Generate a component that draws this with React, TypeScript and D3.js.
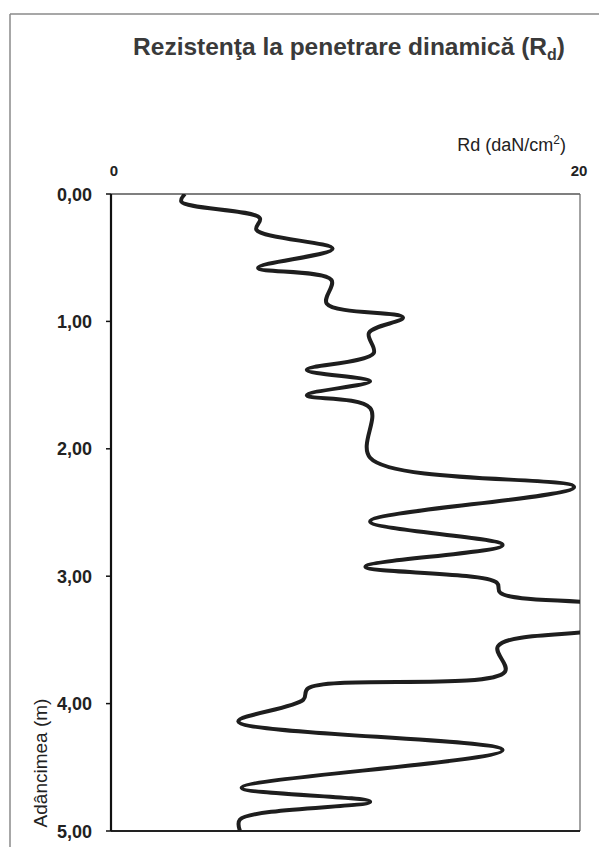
import React from "react";
import * as d3 from "d3";

const depths = [0.0, 0.06, 0.19, 0.28, 0.43, 0.58, 0.675, 0.86, 0.97, 1.09, 1.25, 1.38, 1.47, 1.58, 1.68, 2.07, 2.3, 2.57, 2.755, 2.925, 3.05, 3.13, 3.22, 3.32, 3.42, 3.55, 3.75, 3.88, 3.97, 4.14, 4.365, 4.66, 4.77, 4.91, 5.0];
const rdValues = [3.15, 3.0, 6.35, 6.2, 9.45, 6.27, 9.4, 9.2, 12.45, 11.0, 11.2, 8.35, 11.05, 8.35, 11.05, 11.05, 19.75, 11.05, 16.7, 10.85, 16.45, 16.6, 21, 23, 21, 16.5, 16.8, 8.4, 8.2, 5.43, 16.7, 5.57, 11.05, 5.5, 5.5];
const depthTicks = [0, 1, 2, 3, 4, 5];
const rdTicks = [0, 20];

const W = 599;
const H = 847;
const L = 111, R = 580, T = 194, B = 831;

export default function App() {
  const x = d3.scaleLinear().domain([0, 20]).range([L, R]);
  const y = d3.scaleLinear().domain([0, 5]).range([T, B]);
  const pts = depths.map((d, i) => [rdValues[i], d] as [number, number]);
  const line = d3
    .line<[number, number]>()
    .x((p) => x(p[0]))
    .y((p) => y(p[1]))
    .curve(d3.curveCatmullRom.alpha(0.5));
  const fmt = (v: number) => v.toFixed(2).replace(".", ",");
  const font = "'Liberation Sans', Arial, sans-serif";
  return (
    <svg width={W} height={H} style={{ position: "absolute", left: 0, top: 0, background: "#fff" }} fontFamily={font}>
      <defs>
        <clipPath id="plotClip">
          <rect x={L} y={T} width={R - L} height={B - T} />
        </clipPath>
      </defs>
      {/* outer frame */}
      <line x1={10} y1={14} x2={W} y2={14} stroke="#8a8a8a" strokeWidth={1.5} />
      <line x1={10} y1={14} x2={10} y2={H} stroke="#8a8a8a" strokeWidth={1.5} />
      {/* title */}
      <text x={349} y={55} textAnchor="middle" fontSize={24.5} fontWeight="bold" fill="#3a3a3a">
        Rezistenţa la penetrare dinamică (R<tspan fontSize={16} dy={5}>d</tspan><tspan dy={-5}>)</tspan>
      </text>
      {/* x-axis title */}
      <text x={566} y={151} textAnchor="end" fontSize={18} fill="#222">
        Rd (daN/cm<tspan fontSize={12} dy={-7}>2</tspan><tspan dy={7}>)</tspan>
      </text>
      {rdTicks.map((t) => (
        <text key={t} x={x(t) + (t === 0 ? 3 : -1)} y={176} textAnchor="middle" fontSize={15} fontWeight="bold" fill="#222">
          {t}
        </text>
      ))}
      {/* plot frame */}
      <line x1={L} y1={T} x2={R} y2={T} stroke="#555" strokeWidth={1.6} />
      <line x1={R} y1={T} x2={R} y2={B} stroke="#666" strokeWidth={1.2} />
      <line x1={L} y1={B} x2={R} y2={B} stroke="#222" strokeWidth={2} />
      <line x1={L} y1={T} x2={L} y2={B} stroke="#111" strokeWidth={2.2} />
      {depthTicks.map((t) => (
        <g key={t}>
          <line x1={L - 5} x2={L} y1={y(t)} y2={y(t)} stroke="#111" strokeWidth={1.5} />
          <text x={92} y={y(t) + 6.5} textAnchor="end" fontSize={18} fontWeight="bold" fill="#222">
            {fmt(t)}
          </text>
        </g>
      ))}
      <text transform={`translate(47, 763) rotate(-90)`} textAnchor="middle" fontSize={19} fill="#222">
        Adâncimea (m)
      </text>
      <path d={line(pts) || ""} fill="none" stroke="#1e1e1e" strokeWidth={4} strokeLinejoin="round" clipPath="url(#plotClip)" />
    </svg>
  );
}
